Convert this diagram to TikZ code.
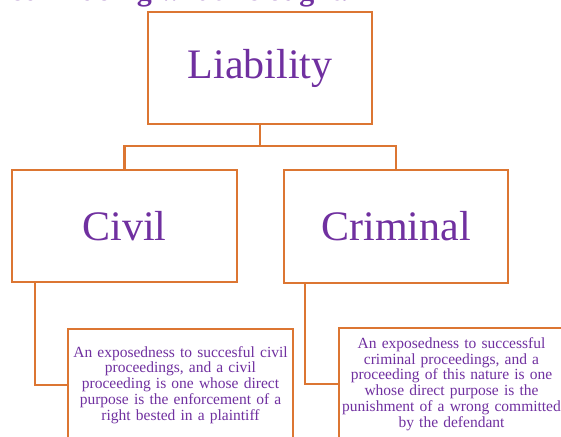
\documentclass[tikz,border=0pt]{standalone}
\usepackage{fontspec}
\setmainfont{Liberation Serif}
\definecolor{boxorange}{RGB}{220,118,50}
\definecolor{txtpurple}{RGB}{112,48,160}
\tikzset{
  bigbox/.style={draw=boxorange, line width=2.5pt, fill=white, text=txtpurple,
    font=\fontsize{42}{50}\selectfont, inner sep=0pt},
  descbox/.style={draw=boxorange, line width=2.5pt, fill=white, text=txtpurple,
    font=\fontsize{15.5}{15.8}\selectfont, align=center, inner sep=0pt,
    minimum width=225pt, minimum height=112pt, text width=224pt},
  link/.style={draw=boxorange, line width=2.2pt}
}
\begin{document}
\begin{tikzpicture}[x=1pt,y=-1pt]
\useasboundingbox (0,0) rectangle (561,436);
\clip (0,0) rectangle (561,436);
\node[anchor=base east, text=txtpurple, font=\fontsize{30}{34}\selectfont\bfseries] (top) at (352,1) {failed in doing what he ought.};
\node[bigbox, minimum width=224pt, minimum height=112pt] (liab) at (260,68) {Liability};
\node[bigbox, minimum width=225pt, minimum height=112pt] (civil) at (124.5,226) {Civil};
\node[bigbox, minimum width=224pt, minimum height=113pt] (crim) at (396,226.5) {Criminal};
\node[descbox] (civtext) at (180.5,385) {An exposedness to succesful civil\\ proceedings, and a civil\\ proceeding is one whose direct\\ purpose is the enforcement of a\\ right bested in a plaintiff};
\node[descbox] (crimtext) at (451.5,384) {An exposedness to successful\\ criminal proceedings, and a\\ proceeding of this nature is one\\ whose direct purpose is the\\ punishment of a wrong committed\\ by the defendant};
\coordinate (j) at (260,146);
\draw[link] (liab.south) -- (j) -| (civil.north);
\draw[link] (j) -| (crim.north);
\draw[link] ([xshift=24pt]civil.south west) |- (civtext.west);
\draw[link] ([xshift=22pt]crim.south west) |- (crimtext.west);
\end{tikzpicture}
\end{document}
